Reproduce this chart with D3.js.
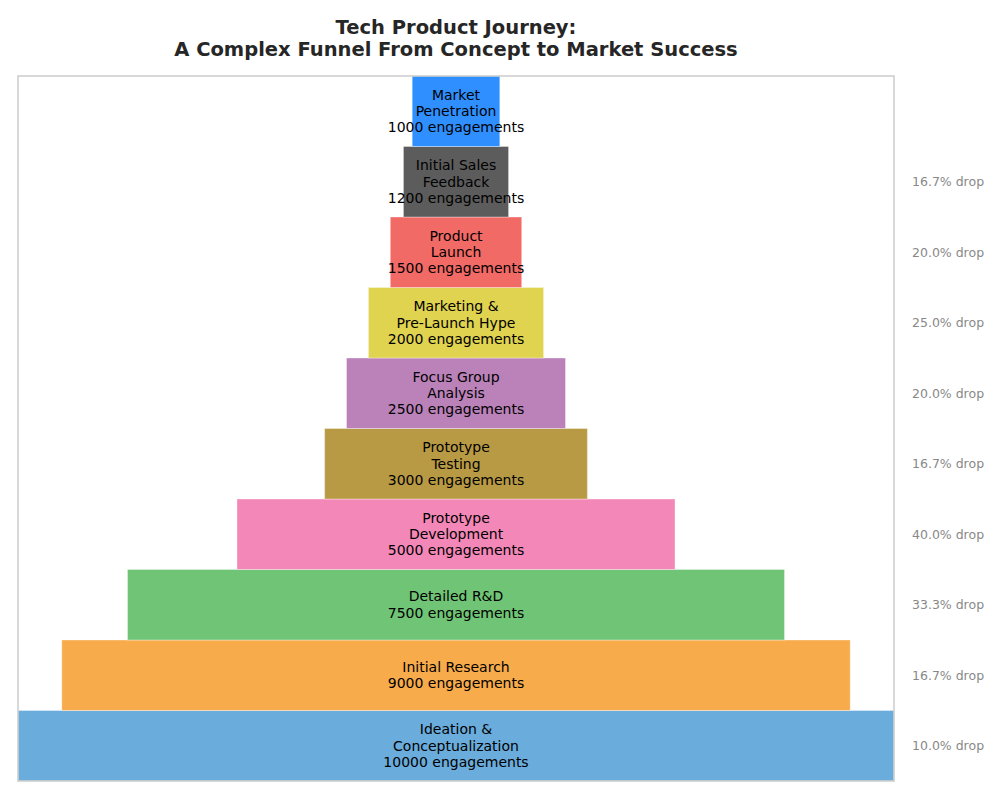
<!DOCTYPE html>
<html><head><meta charset="utf-8">
<script src="https://cdn.jsdelivr.net/npm/d3@7"></script>
<style>body{margin:0;background:#fff;}</style>
</head><body>
<svg id="chart" width="1000" height="800"></svg>
<script>
const stages = [
  ["Ideation &","Conceptualization"],
  ["Initial Research"],
  ["Detailed R&D"],
  ["Prototype","Development"],
  ["Prototype","Testing"],
  ["Focus Group","Analysis"],
  ["Marketing &","Pre-Launch Hype"],
  ["Product","Launch"],
  ["Initial Sales","Feedback"],
  ["Market","Penetration"]
];
const values = [10000, 9000, 7500, 5000, 3000, 2500, 2000, 1500, 1200, 1000];
const colors = ["#6aacdb","#f8ab4b","#70c476","#f388b8","#b99a44","#ba82b9","#e0d350","#f26a66","#5c5c5c","#2f8ffe"];
const dropLabels = ["10.0% drop","16.7% drop","33.3% drop","40.0% drop","16.7% drop","20.0% drop","25.0% drop","20.0% drop","16.7% drop",""];
const titleLines = ["Tech Product Journey:","A Complex Funnel From Concept to Market Success"];

(function(){
const svg = d3.select("#chart");
const pLeft = 18, pRight = 894, pTop = 76, pBottom = 781;
const cx = (pLeft + pRight) / 2;

const w = d3.scaleLinear().domain([0, d3.max(values)]).range([0, pRight - pLeft]);
const y = d3.scaleBand().domain(d3.range(values.length)).range([pBottom, pTop]).padding(0);

const t = svg.append("text").attr("x", 456).attr("y", 34)
  .attr("text-anchor","middle").attr("font-family","DejaVu Sans").attr("font-weight","bold")
  .attr("font-size", 19.5).attr("fill","#262626");
titleLines.forEach((l,i)=>t.append("tspan").attr("x",456).attr("dy", i===0?0:22).text(l));

const g = svg.append("g");
values.forEach((v,i)=>{
  g.append("rect")
    .attr("x", cx - w(v)/2).attr("y", y(i))
    .attr("width", w(v)).attr("height", y.bandwidth())
    .attr("fill", colors[i])
    .attr("stroke", "#ffffff").attr("stroke-opacity", 0.35).attr("stroke-width", 1);
});

values.forEach((v,i)=>{
  const lines = stages[i].concat([v + " engagements"]);
  const mid = y(i) + y.bandwidth()/2;
  const lh = 16.2;
  const txt = g.append("text").attr("text-anchor","middle")
    .attr("font-family","DejaVu Sans").attr("font-size",14).attr("fill","#000");
  lines.forEach((l,k)=>{
    txt.append("tspan").attr("x", cx)
      .attr("y", mid + (k - (lines.length-1)/2)*lh + 4.8).text(l);
  });
  if (dropLabels[i]) {
    svg.append("text").attr("x", 912).attr("y", mid + 4.4)
      .attr("font-family","DejaVu Sans").attr("font-size",12.5).attr("fill","#888")
      .text(dropLabels[i]);
  }
});

svg.append("rect").attr("x", pLeft).attr("y", pTop).attr("width", pRight-pLeft).attr("height", pBottom-pTop)
  .attr("fill","none").attr("stroke","#cccccc").attr("stroke-width",1.5);
})();
</script>
</body></html>
